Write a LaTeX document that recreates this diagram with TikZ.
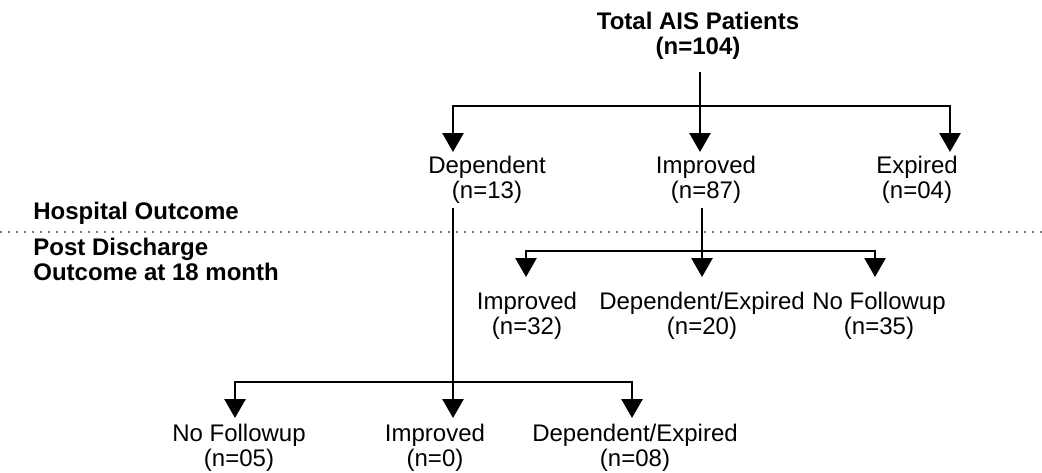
\documentclass[tikz,border=0pt]{standalone}
\usepackage{fontspec}
\setmainfont{Liberation Sans}
\usetikzlibrary{arrows.meta}
\tikzset{>={Triangle[width=10.5pt,length=9.5pt]}}
\tikzset{
  lbl/.style={align=center, font=\fontsize{12}{12.5}\selectfont, inner sep=2pt},
  head/.style={lbl, font=\fontsize{12}{12.5}\selectfont\bfseries},
  side/.style={head, align=left, anchor=west},
  link/.style={line width=1.4pt},
  arr/.style={link,->},
}

\begin{document}
\begin{tikzpicture}[x=0.5pt,y=-0.5pt]
\useasboundingbox (0,0) rectangle (1042,472);

\node[head,inner sep=6pt] (total) at (698,36) {Total AIS Patients\\(n=104)};

\node[lbl] (dep1) at (487,180) {Dependent\\(n=13)};
\node[lbl] (imp1) at (706,180) {Improved\\(n=87)};
\node[lbl] (exp1) at (917,180) {Expired\\(n=04)};

\node[lbl] (imp2) at (527,316) {Improved\\(n=32)};
\node[lbl] (dep2) at (702,316) {Dependent/Expired\\(n=20)};
\node[lbl] (nof2) at (879,316) {No Followup\\(n=35)};

\node[lbl] (nof3) at (239,448) {No Followup\\(n=05)};
\node[lbl] (imp3) at (435,448) {Improved\\(n=0)};
\node[lbl] (dep3) at (635,448) {Dependent/Expired\\(n=08)};

\node[side] (hosp) at (29,213) {Hospital Outcome};
\node[side] (post) at (29,259) {Post Discharge\\Outcome at 18 month};

\draw[gray, line width=1pt, dash pattern=on 1.2pt off 2.8pt] (0,232) -- (1042,232);

\coordinate (jA) at (700,106);
\coordinate (tA1) at (453,152);
\coordinate (tA2) at (700,152);
\coordinate (tA3) at (950,152);
\draw[link] (total.south -| jA) -- (jA);
\draw[arr] (jA) -| (tA1);
\draw[arr] (jA) -- (tA2);
\draw[arr] (jA) -| (tA3);

\coordinate (jB) at (702,251);
\coordinate (tB1) at (526,277);
\coordinate (tB2) at (702,277);
\coordinate (tB3) at (875,277);
\draw[link] (imp1.south -| jB) -- (jB);
\draw[arr] (jB) -| (tB1);
\draw[arr] (jB) -- (tB2);
\draw[arr] (jB) -| (tB3);

\coordinate (jC) at (453,382);
\coordinate (tC1) at (235,418);
\coordinate (tC2) at (453,418);
\coordinate (tC3) at (632,418);
\draw[link] (dep1.south -| jC) -- (jC);
\draw[arr] (jC) -| (tC1);
\draw[arr] (jC) -- (tC2);
\draw[arr] (jC) -| (tC3);

\end{tikzpicture}
\end{document}
